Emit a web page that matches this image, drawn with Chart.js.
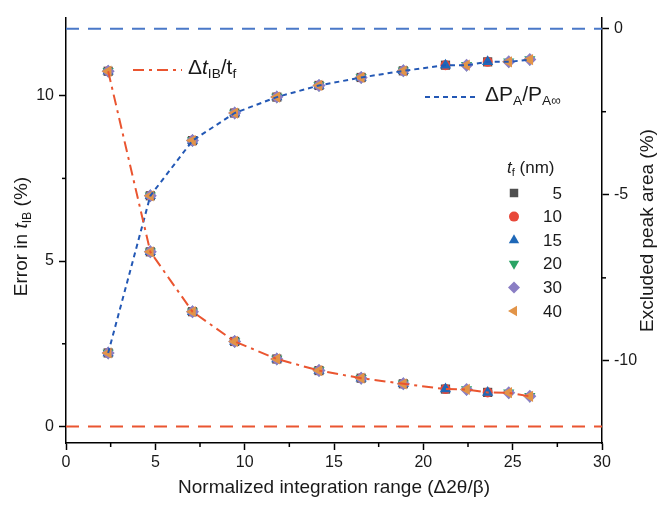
<!DOCTYPE html>
<html>
<head>
<meta charset="utf-8">
<script src="https://cdn.jsdelivr.net/npm/chart.js@4/dist/chart.umd.min.js"></script>
<style>
  html, body { margin: 0; padding: 0; background: #fff; }
  #wrap { width: 666px; height: 505px; }
</style>
</head>
<body>
<div id="wrap"><canvas id="c" width="666" height="505"></canvas></div>
<script>
// integration range (Δ2θ/β)
const xRange = [2.36, 4.72, 7.08, 9.44, 11.8, 14.16, 16.52, 18.88, 21.24, 22.42, 23.6, 24.78, 25.96];
// error in t_IB (%), left axis
const errorTIB = [10.74, 5.28, 3.47, 2.57, 2.04, 1.69, 1.46, 1.29, 1.13, 1.12, 1.03, 1.02, 0.91];
// excluded peak area (%), right axis
const peakArea = [-9.76, -5.03, -3.37, -2.54, -2.06, -1.71, -1.47, -1.27, -1.10, -1.10, -1.00, -1.00, -0.93];

// film thickness series (nm)
const thickness = ['5', '10', '15', '20', '30', '40'];
const markerColors = ['#4f4f4f', '#e8483a', '#1f68b8', '#2aa465', '#8a7ec4', '#e29448'];
const markerShapes = ['rect', 'circle', 'triangle', 'triangle', 'rectRot', 'triangle'];
const markerRotation = [0, 0, 0, 180, 0, -90];
// which points of the x grid each thickness has
const coarseIdx = [0, 1, 2, 3, 4, 5, 6, 7, 8, 10];
const fineIdx = [0, 1, 2, 3, 4, 5, 6, 7, 9, 11, 12];
const pointsFor = ['coarse', 'coarse', 'coarse', 'fine', 'fine', 'fine'];

const xTicks = [0, 5, 10, 15, 20, 25, 30];
const leftTicks = [0, 5, 10];
const rightTicks = [0, -5, -10];

const RED = '#ea5530';
const BLUE = '#2358b5';
const FONT = '"Liberation Sans", Arial, sans-serif';

function seriesData(idx, values) {
  return idx.map(i => ({ x: xRange[i], y: values[i] }));
}

const lineBase = { showLine: true, pointRadius: 0, fill: false, tension: 0, borderWidth: 2 };

const datasets = [
  // fit lines (drawn over the markers)
  {
    label: 'errLine', yAxisID: 'y', ...lineBase,
    data: xRange.map((x, i) => ({ x, y: errorTIB[i] })),
    borderColor: RED, borderDash: [11, 5, 3, 5]
  },
  {
    label: 'areaLine', yAxisID: 'y2', ...lineBase,
    data: xRange.map((x, i) => ({ x, y: peakArea[i] })),
    borderColor: BLUE, borderDash: [5, 4]
  },
  // reference lines at zero
  {
    label: 'zeroErr', yAxisID: 'y', ...lineBase,
    data: [{ x: 0, y: 0 }, { x: 30, y: 0 }],
    borderColor: RED, borderDash: [13, 9]
  },
  {
    label: 'zeroArea', yAxisID: 'y2', ...lineBase,
    data: [{ x: 0, y: 0 }, { x: 30, y: 0 }],
    borderColor: '#4a78c8', borderDash: [13, 9]
  }
];

// markers: 40 nm first so it ends on top
for (let k = thickness.length - 1; k >= 0; k--) {
  const idx = pointsFor[k] === 'coarse' ? coarseIdx : fineIdx;
  const style = {
    showLine: false,
    pointStyle: markerShapes[k],
    rotation: markerRotation[k],
    pointRadius: k === 1 ? 5 : 6.5,
    pointBackgroundColor: markerColors[k],
    pointBorderColor: markerColors[k],
    pointBorderWidth: 0
  };
  datasets.push({ label: thickness[k] + ' err', yAxisID: 'y', data: seriesData(idx, errorTIB), ...style });
  datasets.push({ label: thickness[k] + ' area', yAxisID: 'y2', data: seriesData(idx, peakArea), ...style });
}

// text with italic / subscript runs
function measureRuns(ctx, runs, size) {
  let w = 0;
  runs.forEach(r => {
    const s = r.sub ? size * 0.65 : size;
    ctx.font = (r.italic ? 'italic ' : '') + s + 'px ' + FONT;
    w += ctx.measureText(r.t).width;
  });
  return w;
}
function drawRuns(ctx, x, y, runs, size) {
  ctx.textBaseline = 'middle';
  ctx.textAlign = 'left';
  runs.forEach(r => {
    const s = r.sub ? size * 0.65 : size;
    ctx.font = (r.italic ? 'italic ' : '') + s + 'px ' + FONT;
    ctx.fillText(r.t, x, r.sub ? y + size * 0.32 : y);
    x += ctx.measureText(r.t).width;
  });
}

const extras = {
  id: 'extras',
  afterDraw(chart) {
    const ctx = chart.ctx;
    const xs = chart.scales.x, yl = chart.scales.y, yr = chart.scales.y2;
    const area = chart.chartArea;
    ctx.save();
    ctx.strokeStyle = '#000';
    ctx.lineWidth = 1.5;
    // minor ticks
    for (let v = 2.5; v < 30; v += 5) {
      const px = xs.getPixelForValue(v);
      ctx.beginPath(); ctx.moveTo(px, area.bottom); ctx.lineTo(px, area.bottom + 4); ctx.stroke();
    }
    [2.5, 7.5].forEach(v => {
      const py = yl.getPixelForValue(v);
      ctx.beginPath(); ctx.moveTo(area.left, py); ctx.lineTo(area.left - 4, py); ctx.stroke();
    });
    [-2.5, -7.5].forEach(v => {
      const py = yr.getPixelForValue(v);
      ctx.beginPath(); ctx.moveTo(area.right, py); ctx.lineTo(area.right + 4, py); ctx.stroke();
    });

    ctx.fillStyle = '#1a1a1a';
    // axis titles
    const leftTitle = [{ t: 'Error in ' }, { t: 't', italic: true }, { t: 'IB', sub: true }, { t: ' (%)' }];
    ctx.save();
    ctx.translate(22, (area.top + area.bottom) / 2 + 6);
    ctx.rotate(-Math.PI / 2);
    drawRuns(ctx, -measureRuns(ctx, leftTitle, 19) / 2, 0, leftTitle, 19);
    ctx.restore();

    const rightTitle = [{ t: 'Excluded peak area (%)' }];
    ctx.save();
    ctx.translate(648, (area.top + area.bottom) / 2);
    ctx.rotate(-Math.PI / 2);
    drawRuns(ctx, -measureRuns(ctx, rightTitle, 19) / 2, 0, rightTitle, 19);
    ctx.restore();

    const bottomTitle = [{ t: 'Normalized integration range (Δ2θ/β)' }];
    drawRuns(ctx, (area.left + area.right) / 2 - measureRuns(ctx, bottomTitle, 19) / 2, 488, bottomTitle, 19);

    // curve labels
    ctx.lineWidth = 2;
    ctx.strokeStyle = RED;
    ctx.setLineDash([11, 5, 3, 5]);
    ctx.beginPath(); ctx.moveTo(133, 70); ctx.lineTo(182, 70); ctx.stroke();
    ctx.strokeStyle = BLUE;
    ctx.setLineDash([5, 4]);
    ctx.beginPath(); ctx.moveTo(425, 97); ctx.lineTo(478, 97); ctx.stroke();
    ctx.setLineDash([]);
    drawRuns(ctx, 188, 68, [{ t: 'Δ' }, { t: 't', italic: true }, { t: 'IB', sub: true }, { t: '/t' }, { t: 'f', sub: true }], 21);
    drawRuns(ctx, 485, 95, [{ t: 'ΔP' }, { t: 'A', sub: true }, { t: '/P' }, { t: 'A∞', sub: true }], 21);

    // thickness legend
    drawRuns(ctx, 507, 168, [{ t: 't', italic: true }, { t: 'f', sub: true }, { t: ' (nm)' }], 17);
    thickness.forEach((label, k) => {
      const ly = 193 + k * 23.6;
      ctx.fillStyle = markerColors[k];
      ctx.strokeStyle = markerColors[k];
      Chart.helpers.drawPoint(ctx, {
        pointStyle: markerShapes[k], rotation: markerRotation[k],
        radius: k === 1 ? 5 : 6, borderWidth: 0
      }, 514, ly);
      ctx.fillStyle = '#1a1a1a';
      ctx.font = '17px ' + FONT;
      ctx.textAlign = 'right';
      ctx.textBaseline = 'middle';
      ctx.fillText(label, 562, ly + 1);
    });
    ctx.restore();
  }
};

const tickFont = { family: FONT, size: 16 };

new Chart(document.getElementById('c'), {
  type: 'scatter',
  data: { datasets },
  options: {
    responsive: false,
    animation: false,
    layout: { padding: { top: 18, left: 0, right: 0, bottom: 0 } },
    plugins: { legend: { display: false }, tooltip: { enabled: false } },
    scales: {
      x: {
        type: 'linear', min: 0, max: 30,
        afterBuildTicks: s => { s.ticks = xTicks.map(v => ({ value: v })); },
        afterFit: s => { s.height = 62; },
        ticks: { font: tickFont, color: '#1a1a1a', padding: 3, maxRotation: 0 },
        grid: { drawOnChartArea: false, tickLength: 7, tickColor: '#000', tickWidth: 1.5 },
        border: { color: '#000', width: 1.5 }
      },
      y: {
        type: 'linear', position: 'left', min: -0.5, max: 12.35,
        afterBuildTicks: s => { s.ticks = leftTicks.map(v => ({ value: v })); },
        afterFit: s => { s.width = 66; },
        ticks: { font: tickFont, color: '#1a1a1a', padding: 5 },
        grid: { drawOnChartArea: false, tickLength: 7, tickColor: '#000', tickWidth: 1.5 },
        border: { color: '#000', width: 1.5 }
      },
      y2: {
        type: 'linear', position: 'right', min: -12.47, max: 0.32,
        afterBuildTicks: s => { s.ticks = rightTicks.map(v => ({ value: v })); },
        afterFit: s => { s.width = 64; },
        ticks: { font: tickFont, color: '#1a1a1a', padding: 5 },
        grid: { drawOnChartArea: false, tickLength: 7, tickColor: '#000', tickWidth: 1.5 },
        border: { color: '#000', width: 1.5 }
      }
    }
  },
  plugins: [extras]
});
</script>
</body>
</html>
